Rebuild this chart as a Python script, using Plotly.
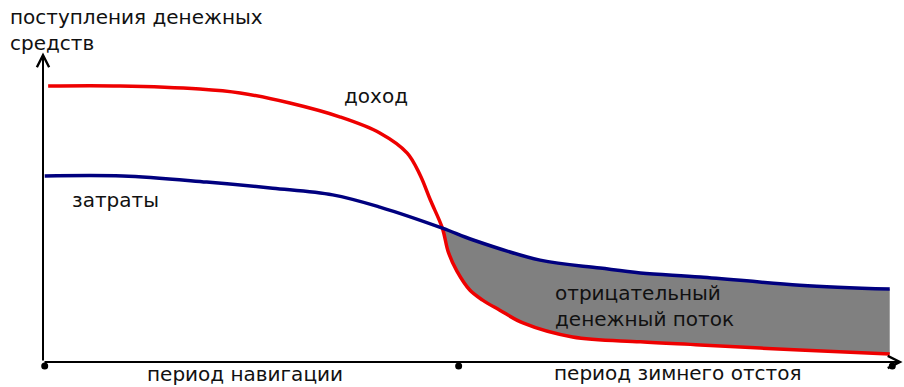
import plotly.graph_objects as go

# (x: time 0..100, y: money 0..100)
income_x = [0.6, 9.0, 18.3, 23.0, 28.8, 34.7, 39.3, 42.5, 44.0, 45.2, 46.6, 47.3, 48.3, 49.8, 51.3, 53.3, 56.0, 61.8, 69.7, 76.7, 88.3, 98.8]
income_y = [90.5, 90.5, 89.5, 88.2, 84.9, 80.3, 75.1, 68.5, 61.3, 53.1, 43.9, 36.0, 29.8, 23.6, 20.3, 17.0, 12.8, 8.2, 6.6, 5.6, 3.9, 2.6]
cost_x = [0.2, 9.3, 19.1, 26.8, 33.8, 39.3, 46.6, 50.2, 58.0, 65.0, 69.7, 76.7, 88.3, 98.8]
cost_y = [61.0, 61.0, 59.0, 57.0, 54.8, 50.8, 43.9, 40.0, 33.4, 30.8, 29.2, 27.9, 25.2, 23.9]
cross_x = 46.6
period_marks_x = [0.2, 48.5, 99.1]
period_marks_y = [-1.3, -1.3, -1.3]

title_text = "поступления денежных<br>средств"
income_label = "доход"
cost_label = "затраты"
flow_text = "отрицательный<br>денежный поток"
period_labels = ["период навигации", "период зимнего отстоя"]

RED = "#ee0000"
BLUE = "#00007f"
GREY = "#808080"
FONT = dict(family="DejaVu Sans", size=20, color="#111111")

fig = go.Figure()

# fill region (negative cash flow) between cost (top) and income (bottom) after crossing
cx = [x for x in cost_x if x >= cross_x]
cy = [y for x, y in zip(cost_x, cost_y) if x >= cross_x]
ix = [x for x in income_x if x >= cross_x]
iy = [y for x, y in zip(income_x, income_y) if x >= cross_x]
fig.add_trace(go.Scatter(x=cx, y=cy, mode="lines", line=dict(width=0, shape="spline", color=GREY),
                         showlegend=False, hoverinfo="skip"))
fig.add_trace(go.Scatter(x=ix, y=iy, mode="lines", line=dict(width=0, shape="spline", color=GREY),
                         fill="tonexty", fillcolor=GREY, showlegend=False, hoverinfo="skip"))

fig.add_trace(go.Scatter(x=income_x, y=income_y, mode="lines",
                         line=dict(color=RED, width=3.5, shape="spline"), showlegend=False))
fig.add_trace(go.Scatter(x=cost_x, y=cost_y, mode="lines",
                         line=dict(color=BLUE, width=3.5, shape="spline"), showlegend=False))
fig.add_trace(go.Scatter(x=period_marks_x, y=period_marks_y, mode="markers",
                         marker=dict(color="black", size=7), showlegend=False))

W, H = 904, 387
def px(xp):
    return xp / W
def py(yp):
    return 1 - yp / H

ann = []
# axes with arrows
ann.append(dict(x=0, y=101.5, ax=0, ay=0, xref="x", yref="y", axref="x", ayref="y",
                showarrow=True, arrowhead=5, arrowwidth=2, arrowsize=1.2, arrowcolor="black", text=""))
ann.append(dict(x=100.3, y=0, ax=0, ay=0, xref="x", yref="y", axref="x", ayref="y",
                showarrow=True, arrowhead=5, arrowwidth=2, arrowsize=1.2, arrowcolor="black", text=""))

def label(text, xp, yp, xanchor="left", yanchor="middle"):
    ann.append(dict(text=text, x=px(xp), y=py(yp), xref="paper", yref="paper",
                    xanchor=xanchor, yanchor=yanchor, showarrow=False, font=FONT, align="left"))

label(title_text, 8, 3, yanchor="top")
label(income_label, 342, 96)
label(cost_label, 70, 200)
label(flow_text, 553, 306)
label(period_labels[0], 245, 374, "center")
label(period_labels[1], 678, 373, "center")

fig.update_layout(
    width=W, height=H,
    margin=dict(l=0, r=0, t=0, b=0),
    paper_bgcolor="white", plot_bgcolor="white",
    xaxis=dict(range=[-43 / 8.57, (W - 43) / 8.57], visible=False, fixedrange=True),
    yaxis=dict(range=[(362 - H) / 3.05, 362 / 3.05], visible=False, fixedrange=True),
    annotations=ann,
)

fig.write_html("out.html", config={"displayModeBar": False},
               post_script="document.body.style.margin='0';document.body.style.overflow='hidden';")
